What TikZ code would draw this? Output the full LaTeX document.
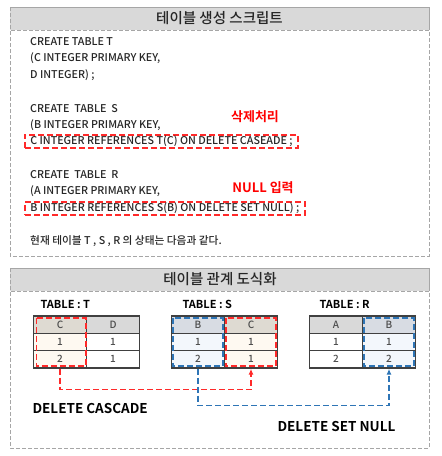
\documentclass[tikz,border=0pt]{standalone}
\usepackage{fontspec}
\setmainfont{Noto Sans CJK KR}[UprightFont=* Medium, BoldFont=* Bold]
\usepackage{tikz}
\usetikzlibrary{arrows.meta}
\definecolor{panelgray}{HTML}{A6A6A6}
\definecolor{bandgray}{HTML}{D9D9D9}
\definecolor{cellline}{HTML}{404040}
\definecolor{delred}{HTML}{FF2A2A}
\definecolor{nullblue}{HTML}{2E75B6}
\definecolor{redhead}{HTML}{DEDAD2}
\definecolor{redcell}{HTML}{FEF9F1}
\definecolor{bluehead}{HTML}{D8DCE3}
\definecolor{bluecell}{HTML}{F3F7FC}
\tikzset{
    panel/.style={draw=panelgray, dash pattern=on 4pt off 2pt, line width=0.9pt},
    heading/.style={font=\fontsize{14.5}{16}\selectfont, text=black!85},
    code/.style={anchor=west, inner sep=0pt, font=\fontsize{10.7}{13}\selectfont, text=black!85},
    reftext/.style={code, inner xsep=5.5pt, inner ysep=1.5pt, text height=8pt, text depth=2pt},
    note/.style={font=\fontsize{13}{15}\selectfont\bfseries, text=red},
    tablename/.style={anchor=west, font=\fontsize{11}{13}\selectfont\bfseries},
    rulename/.style={anchor=west, font=\fontsize{13.5}{15}\selectfont\bfseries},
    cell/.style={draw=cellline, line width=1.4pt, minimum width=53pt, minimum height=17.33pt,
        inner sep=0pt, fill=white, text=black!70, font=\fontsize{10}{12}\selectfont},
    head/.style={cell, fill=bandgray},
    redmark/.style={draw=delred, dash pattern=on 6pt off 3pt, line width=1.6pt},
    bluemark/.style={draw=nullblue, dash pattern=on 6pt off 3pt, line width=1.6pt}}

\begin{document}
\begin{tikzpicture}[x=1pt, y=-1pt]

            \useasboundingbox (0,0) rectangle (442,456);

            % script panel
            \filldraw[panel, fill=bandgray] (10,7) rectangle (429,30);
            \draw[panel] (10,7) rectangle (429,256);
            \node[heading] (scriptTitle) at (219.5,18.5) {테이블 생성 스크립트};

            \node[code] (createT) at (30,42) {CREATE TABLE T};
            \node[code] (keyC) at (30,58.6) {(C INTEGER PRIMARY KEY,};
            \node[code] (colD) at (30,75.2) {D INTEGER) ;};
            \node[code] (createS) at (30,108.4) {CREATE\ \ TABLE\ \ S};
            \node[code] (keyB) at (30,125) {(B INTEGER PRIMARY KEY,};
            \node[reftext, redmark] (refC) at (24,141.5) {C INTEGER REFERENCES T(C) ON DELETE CASEADE ;};
            \node[code] (createR) at (30,174.8) {CREATE\ \ TABLE\ \ R};
            \node[code] (keyA) at (30,191.4) {(A INTEGER PRIMARY KEY,};
            \node[reftext, redmark] (refB) at (24,208.5) {B INTEGER REFERENCES S(B) ON DELETE SET NULL) ;};
            \node[code] (state) at (30,241.2) {현재 테이블 T , S , R 의 상태는 다음과 같다.};

            \node[note] (cascadeNote) at (255,117) {삭제처리};
            \node[note] (nullNote) at (263,188) {NULL 입력};

            % relation panel
            \filldraw[panel, fill=bandgray] (10,268) rectangle (429,291);
            \draw[panel] (10,268) rectangle (429,448);
            \node[heading] (relTitle) at (220,279.5) {테이블 관계 도식화};

            \node[tablename] (nameT) at (37,304) {TABLE : T};
            \node[tablename] (nameS) at (179,304) {TABLE : S};
            \node[tablename] (nameR) at (316,304) {TABLE : R};

            % table T
            \node[head, fill=redhead] (TC0) at (60,324.7) {C};
            \node[head] (TD0) at (113,324.7) {D};
            \node[cell, fill=redcell] (TC1) at (60,342) {1};
            \node[cell] (TD1) at (113,342) {1};
            \node[cell, fill=redcell] (TC2) at (60,359.3) {2};
            \node[cell] (TD2) at (113,359.3) {1};

            % table S
            \node[head, fill=bluehead] (SB0) at (198,324.7) {B};
            \node[head, fill=redhead] (SC0) at (251,324.7) {C};
            \node[cell, fill=bluecell] (SB1) at (198,342) {1};
            \node[cell, fill=redcell] (SC1) at (251,342) {1};
            \node[cell, fill=bluecell] (SB2) at (198,359.3) {2};
            \node[cell, fill=redcell] (SC2) at (251,359.3) {1};

            % table R
            \node[head] (RA0) at (336,324.7) {A};
            \node[head, fill=bluehead] (RB0) at (389,324.7) {B};
            \node[cell] (RA1) at (336,342) {1};
            \node[cell, fill=bluecell] (RB1) at (389,342) {1};
            \node[cell] (RA2) at (336,359.3) {2};
            \node[cell, fill=bluecell] (RB2) at (389,359.3) {2};

            \draw[redmark] ([shift={(3.5,2.5)}]TC0.north west) rectangle ([shift={(-1.5,-2.5)}]TC2.south east);
            \draw[bluemark] ([shift={(2,2.5)}]SB0.north west) rectangle ([shift={(-2,-2.5)}]SB2.south east);
            \draw[redmark] ([shift={(2,2.5)}]SC0.north west) rectangle ([shift={(-2,-2.5)}]SC2.south east);
            \draw[bluemark] ([shift={(2,2.5)}]RB0.north west) rectangle ([shift={(-2,-2.5)}]RB2.south east);

            \draw[redmark, -{Latex[length=6pt, width=5pt]}] (TC2.south) -- ++(0,21) -| (SC2.south);
            \draw[bluemark, -{Latex[length=6pt, width=5pt]}] (SB2.south) -- ++(0,37) -| (RB2.south);

            \node[rulename] (cascadeLabel) at (29,408) {DELETE CASCADE};
            \node[rulename] (setNullLabel) at (274,426) {DELETE SET NULL};

        \end{tikzpicture}
\end{document}
